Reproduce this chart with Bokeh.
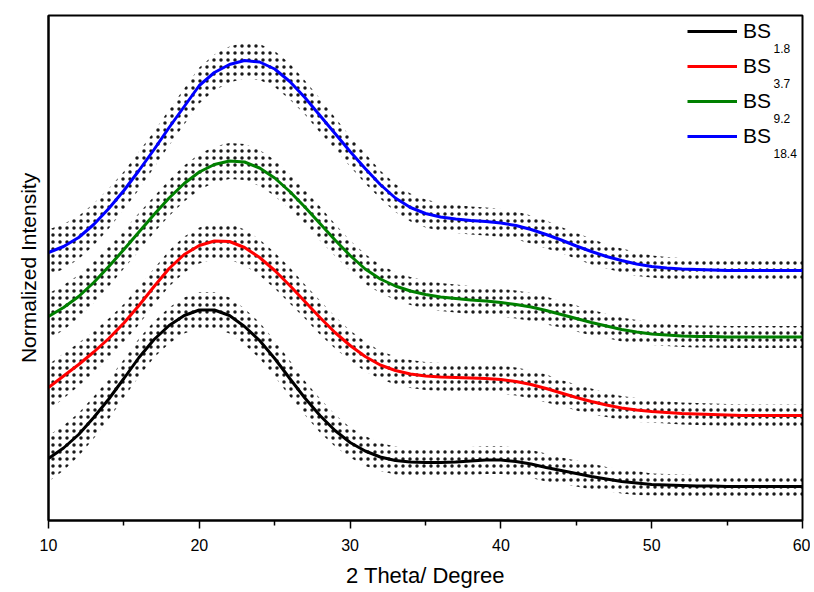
import numpy as np
from bokeh.plotting import figure
from bokeh.models import Legend, LegendItem, Label, FixedTicker, Range1d
from bokeh.embed import file_html
from bokeh.resources import INLINE

# ---- data (2-theta in degrees, normalized intensity, offset curves) ----
two_theta = list(range(10, 61))

bs_1_8 = [0.124, 0.145, 0.172, 0.206, 0.243, 0.284, 0.326, 0.362, 0.390, 0.410,
          0.421, 0.421, 0.410, 0.388, 0.360, 0.324, 0.284, 0.245, 0.210, 0.180,
          0.156, 0.139, 0.127, 0.120, 0.117, 0.116, 0.116, 0.117, 0.119, 0.121,
          0.121, 0.118, 0.113, 0.106, 0.100, 0.094, 0.088, 0.083, 0.078, 0.075,
          0.072, 0.071, 0.070, 0.069, 0.069, 0.068, 0.068, 0.068, 0.068, 0.068,
          0.068]

bs_3_7 = [0.266, 0.289, 0.312, 0.337, 0.364, 0.395, 0.430, 0.468, 0.504, 0.532,
          0.550, 0.559, 0.558, 0.546, 0.526, 0.500, 0.470, 0.438, 0.406, 0.376,
          0.350, 0.328, 0.311, 0.300, 0.293, 0.289, 0.287, 0.286, 0.285, 0.284,
          0.282, 0.278, 0.272, 0.264, 0.255, 0.246, 0.238, 0.231, 0.225, 0.221,
          0.218, 0.216, 0.214, 0.213, 0.212, 0.211, 0.210, 0.210, 0.210, 0.210,
          0.210]

bs_9_2 = [0.408, 0.426, 0.448, 0.476, 0.508, 0.542, 0.577, 0.612, 0.645, 0.674,
          0.697, 0.712, 0.719, 0.717, 0.705, 0.685, 0.658, 0.627, 0.594, 0.561,
          0.530, 0.503, 0.483, 0.469, 0.459, 0.452, 0.447, 0.444, 0.441, 0.439,
          0.436, 0.432, 0.427, 0.420, 0.412, 0.404, 0.396, 0.389, 0.382, 0.377,
          0.373, 0.371, 0.369, 0.368, 0.368, 0.367, 0.367, 0.367, 0.367, 0.367,
          0.367]

bs_18_4 = [0.536, 0.548, 0.566, 0.592, 0.624, 0.660, 0.700, 0.742, 0.786, 0.828,
           0.870, 0.896, 0.912, 0.920, 0.917, 0.903, 0.878, 0.846, 0.810, 0.774,
           0.738, 0.704, 0.672, 0.645, 0.626, 0.614, 0.607, 0.603, 0.600, 0.598,
           0.595, 0.590, 0.582, 0.572, 0.561, 0.549, 0.538, 0.528, 0.520, 0.513,
           0.508, 0.505, 0.503, 0.502, 0.501, 0.500, 0.500, 0.500, 0.500, 0.500,
           0.500]

scatter_half_width = [0.046, 0.045, 0.043, 0.042, 0.040, 0.038, 0.038, 0.036, 0.036, 0.036,
                      0.036, 0.036, 0.036, 0.036, 0.036, 0.036, 0.036, 0.034, 0.034, 0.032,
                      0.030, 0.030, 0.028, 0.028, 0.028, 0.028, 0.028, 0.028, 0.028, 0.028,
                      0.028, 0.028, 0.028, 0.028, 0.026, 0.026, 0.026, 0.024, 0.024, 0.024,
                      0.022, 0.022, 0.022, 0.022, 0.022, 0.022, 0.022, 0.022, 0.022, 0.022,
                      0.022]

series_names = ["1.8", "3.7", "9.2", "18.4"]
series_values = [bs_1_8, bs_3_7, bs_9_2, bs_18_4]
series_colors = ["#000000", "#ff0000", "#008000", "#0000ff"]

x_major_ticks = [10, 20, 30, 40, 50, 60]
x_minor_ticks = [15, 25, 35, 45, 55]

FONT = "Liberation Sans"

p = figure(width=810, height=590, output_backend="svg", toolbar_location=None,
           x_range=Range1d(10, 60), y_range=Range1d(0, 1.01),
           min_border_left=48, min_border_right=8, min_border_top=15, min_border_bottom=70)
p.grid.visible = False
p.outline_line_color = "black"
p.outline_line_width = 2

xa = p.xaxis[0]
xa.ticker = FixedTicker(ticks=x_major_ticks, minor_ticks=x_minor_ticks)
xa.axis_line_width = 2
xa.major_tick_out = 8
xa.major_tick_in = 0
xa.minor_tick_out = 5
xa.minor_tick_in = 0
xa.major_tick_line_width = 1.5
xa.minor_tick_line_width = 1.5
xa.major_label_text_font = FONT
xa.major_label_text_font_size = "16px"
xa.major_label_text_color = "black"
xa.major_label_standoff = 10
xa.axis_label = "2 Theta/ Degree"
xa.axis_label_text_font = FONT
xa.axis_label_text_font_size = "22px"
xa.axis_label_text_font_style = "normal"
xa.axis_label_text_color = "black"
xa.axis_label_standoff = 9

ya = p.yaxis[0]
ya.ticker = FixedTicker(ticks=[])
ya.axis_line_width = 2
ya.major_tick_out = 0
ya.minor_tick_out = 0
ya.axis_label = "Normalized Intensity"
ya.axis_label_text_font = FONT
ya.axis_label_text_font_size = "21px"
ya.axis_label_text_font_style = "normal"
ya.axis_label_text_color = "black"
ya.axis_label_standoff = 9

x_arr = np.array(two_theta, dtype=float)
hw = np.array(scatter_half_width)

# cloud of measured points, shown as dotted band
for vals in series_values:
    v = np.array(vals)
    p.varea(x=x_arr, y1=v - hw, y2=v + hw, fill_alpha=0,
            hatch_pattern="dot", hatch_color="black", hatch_scale=7, hatch_weight=1.0,
            hatch_alpha=0.9)

items = []
for name, vals, col in zip(series_names, series_values, series_colors):
    r = p.line(x=two_theta, y=vals, line_color=col, line_width=3)
    items.append(LegendItem(label="BS", renderers=[r]))

legend = Legend(items=items, location=(639, 372), padding=0, margin=0, spacing=11,
                glyph_width=50, glyph_height=24, label_height=24, label_standoff=6,
                label_text_font=FONT, label_text_font_size="21px", label_text_color="black",
                border_line_alpha=0, background_fill_alpha=0)
p.add_layout(legend)

for i, name in enumerate(series_names):
    p.add_layout(Label(x=725, y=472 - 35 * i, x_units="screen", y_units="screen",
                       text=name, text_font=FONT, text_font_size="12px",
                       text_baseline="alphabetic", text_color="black"))

open("out.html", "w").write(file_html(p, INLINE))
